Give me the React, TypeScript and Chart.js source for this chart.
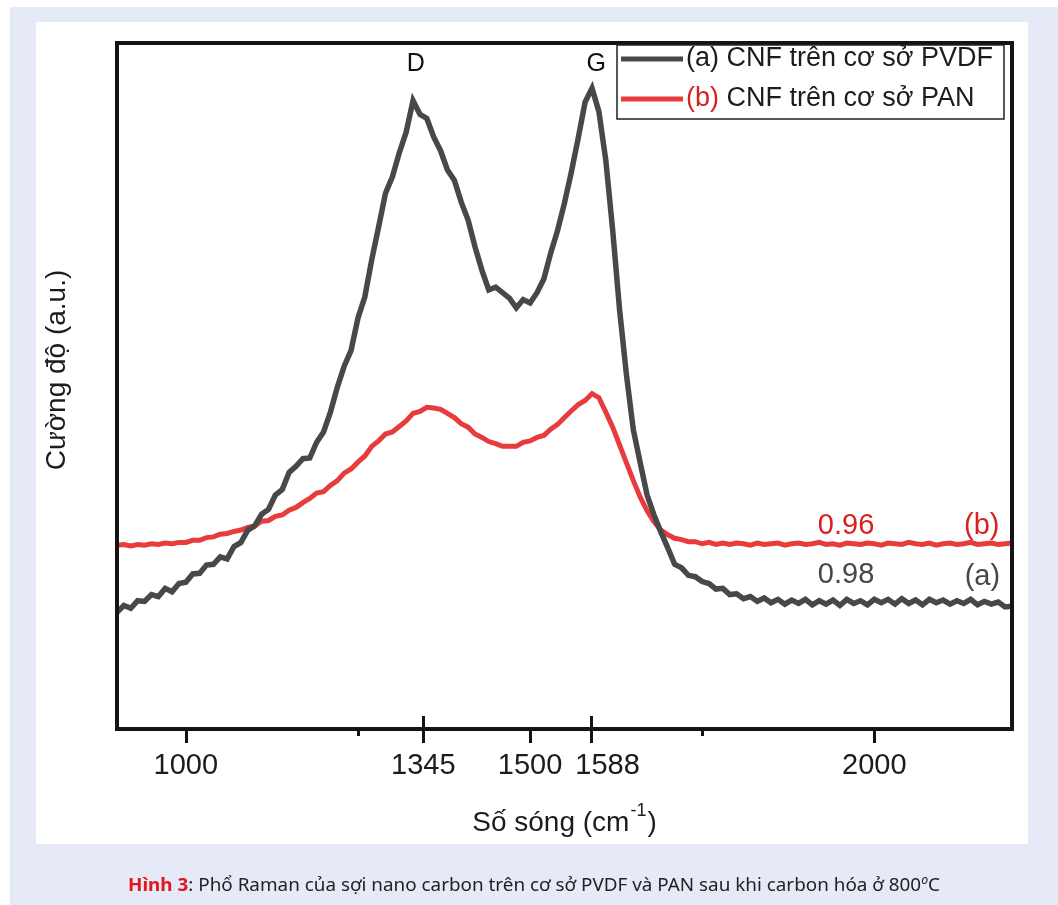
import React, { useEffect, useRef } from 'react';
import { Chart, registerables } from 'chart.js';

Chart.register(...registerables);

const FONT = '"Liberation Sans", Arial, "DejaVu Sans", sans-serif';

// Raman shift (cm-1)
const WAVENUMBERS = [
  900, 910, 920, 930, 940, 950, 960, 970, 980, 990,
  1000, 1010, 1020, 1030, 1040, 1050, 1060, 1070, 1080, 1090,
  1100, 1110, 1120, 1130, 1140, 1150, 1160, 1170, 1180, 1190,
  1200, 1210, 1220, 1230, 1240, 1250, 1260, 1270, 1280, 1290,
  1300, 1310, 1320, 1330, 1340, 1350, 1360, 1370, 1380, 1390,
  1400, 1410, 1420, 1430, 1440, 1450, 1460, 1470, 1480, 1490,
  1500, 1510, 1520, 1530, 1540, 1550, 1560, 1570, 1580, 1590,
  1600, 1610, 1620, 1630, 1640, 1650, 1660, 1670, 1680, 1690,
  1700, 1710, 1720, 1730, 1740, 1750, 1760, 1770, 1780, 1790,
  1800, 1810, 1820, 1830, 1840, 1850, 1860, 1870, 1880, 1890,
  1900, 1910, 1920, 1930, 1940, 1950, 1960, 1970, 1980, 1990,
  2000, 2010, 2020, 2030, 2040, 2050, 2060, 2070, 2080, 2090,
  2100, 2110, 2120, 2130, 2140, 2150, 2160, 2170, 2180, 2190,
  2200,
];

// (a) CNF on PVDF basis (a.u.)
const PVDF = [
  17.0, 18.0, 17.6, 18.7, 18.6, 19.6, 19.3, 20.5, 20.0, 21.2,
  21.4, 22.6, 22.7, 23.9, 24.0, 25.1, 24.8, 26.6, 27.2, 29.0,
  29.6, 31.3, 32.0, 34.1, 34.9, 37.4, 38.3, 39.4, 39.5, 41.8,
  43.3, 46.2, 49.8, 52.9, 55.2, 59.9, 63.0, 68.4, 73.2, 78.1,
  80.5, 84.0, 87.0, 91.6, 89.6, 89.0, 86.3, 84.3, 81.5, 80.0,
  76.8, 74.2, 70.3, 66.9, 64.0, 64.4, 63.6, 62.8, 61.4, 62.6,
  62.1, 63.6, 65.6, 69.4, 72.7, 76.7, 81.2, 86.2, 91.4, 93.4,
  90.0, 82.9, 72.7, 61.1, 51.6, 43.6, 38.8, 34.1, 31.2, 28.7,
  26.4, 24.0, 23.5, 22.4, 22.2, 21.5, 21.2, 20.4, 20.5, 19.6,
  19.7, 19.0, 19.3, 18.6, 19.1, 18.4, 18.9, 18.2, 18.8, 18.3,
  18.9, 18.1, 18.7, 18.2, 18.8, 18.0, 18.9, 18.3, 18.7, 18.1,
  18.9, 18.4, 18.9, 18.2, 19.0, 18.3, 18.8, 18.1, 18.9, 18.4,
  18.8, 18.2, 18.7, 18.3, 18.9, 18.1, 18.6, 18.2, 18.5, 17.8,
  17.9,
];

// (b) CNF on PAN basis (a.u.)
const PAN = [
  26.8, 26.9, 26.7, 26.9, 26.8, 27.0, 26.9, 27.1, 27.0, 27.2,
  27.2, 27.5, 27.5, 27.9, 28.0, 28.4, 28.5, 28.8, 29.0, 29.4,
  29.6, 30.3, 30.4, 31.0, 31.2, 31.9, 32.3, 33.0, 33.6, 34.4,
  34.6, 35.5, 36.2, 37.3, 37.9, 38.9, 39.8, 41.2, 42.0, 43.0,
  43.3, 44.1, 44.9, 46.0, 46.3, 46.9, 46.8, 46.6, 46.0, 45.4,
  44.5, 44.0, 43.0, 42.5, 41.9, 41.6, 41.2, 41.2, 41.2, 41.8,
  42.0, 42.5, 42.8, 43.7, 44.4, 45.4, 46.4, 47.3, 47.9, 48.9,
  48.3, 46.2, 44.0, 41.4, 38.8, 36.2, 33.8, 31.8, 30.2, 29.0,
  28.3, 27.8, 27.6, 27.3, 27.3, 27.0, 27.2, 26.9, 27.1, 26.9,
  27.1, 27.0, 26.8, 27.1, 26.9, 27.0, 27.1, 26.8, 27.0, 27.1,
  26.9, 27.0, 27.2, 26.9, 27.0, 26.8, 27.1, 27.0, 26.9, 27.1,
  27.0, 26.8, 27.1, 27.0, 26.9, 27.2, 27.0, 26.9, 27.1, 26.8,
  27.0, 27.1, 26.9, 27.0, 27.2, 26.9, 27.0, 27.1, 26.9, 27.0,
  27.1,
];

const SERIES_TAGS = ['(a)', '(b)'];
const SERIES_NAMES = ['CNF trên cơ sở PVDF', 'CNF trên cơ sở PAN'];

const X_TICKS = [1000, 1250, 1345, 1500, 1588, 1750, 2000];
const X_TICK_LABELS = ['1000', '', '1345', '1500', '1588', '', '2000'];
const PEAK_TICKS = [1345, 1588];

const PEAK_NAMES = ['D', 'G'];
const PEAK_NAME_AT = [1334, 1596];

const RATIO_TEXTS = ['0.98', '0.96'];
const RATIO_AT = [1959, 1959];
const RATIO_LEVEL = [22.4, 29.6];
const TAG_AT = [2157, 2156];
const TAG_LEVEL = [22.2, 29.6];

const X_MIN = 900;
const X_MAX = 2200;

const COLOR_A = '#484848';
const COLOR_B = '#e83c3c';
const TEXT_A = '#474747';
const TEXT_B = '#d8201f';

const decorPlugin = {
  id: 'decor',
  afterDatasetsDraw(chart: any) {
    const { ctx, chartArea: a, scales } = chart;
    const xs = scales.x;
    const ys = scales.y;
    ctx.save();

    // frame
    ctx.strokeStyle = '#141414';
    ctx.lineWidth = 4;
    ctx.strokeRect(a.left, a.top, a.right - a.left, a.bottom - a.top);

    // tick marks
    ctx.lineWidth = 3;
    X_TICKS.forEach((v, i) => {
      const px = Math.round(xs.getPixelForValue(v)) + 0.5;
      const minor = X_TICK_LABELS[i] === '';
      const cross = PEAK_TICKS.includes(v);
      ctx.beginPath();
      ctx.moveTo(px, cross ? a.bottom - 13 : a.bottom);
      ctx.lineTo(px, a.bottom + (minor ? 7 : 14));
      ctx.stroke();
    });

    // tick labels (pushed apart when they would touch)
    ctx.font = `29px ${FONT}`;
    ctx.fillStyle = '#1c1c1c';
    ctx.textAlign = 'center';
    ctx.textBaseline = 'middle';
    let prevRight = -Infinity;
    X_TICKS.forEach((v, i) => {
      const t = X_TICK_LABELS[i];
      if (!t) return;
      const w = ctx.measureText(t).width;
      let cx = xs.getPixelForValue(v);
      if (cx - w / 2 < prevRight + 13) cx = prevRight + 13 + w / 2;
      ctx.fillText(t, cx, a.bottom + 37);
      prevRight = cx + w / 2;
    });

    // x title with superscript
    const main = 'Số sóng (cm';
    const sup = '-1';
    const close = ')';
    ctx.textAlign = 'left';
    ctx.textBaseline = 'alphabetic';
    ctx.font = `28px ${FONT}`;
    const w1 = ctx.measureText(main).width;
    const w3 = ctx.measureText(close).width;
    ctx.font = `18px ${FONT}`;
    const w2 = ctx.measureText(sup).width;
    const total = w1 + w2 + w3 + 2;
    let sx = (a.left + a.right) / 2 - total / 2;
    const by = a.bottom + 102;
    ctx.font = `28px ${FONT}`;
    ctx.fillText(main, sx, by);
    sx += w1 + 1;
    ctx.font = `18px ${FONT}`;
    ctx.fillText(sup, sx, by - 15);
    sx += w2 + 1;
    ctx.font = `28px ${FONT}`;
    ctx.fillText(close, sx, by);

    // y title
    ctx.save();
    ctx.translate(a.left - 60, (a.top + a.bottom) / 2 - 16);
    ctx.rotate(-Math.PI / 2);
    ctx.textAlign = 'center';
    ctx.textBaseline = 'middle';
    ctx.font = `28px ${FONT}`;
    ctx.fillText('Cường độ (a.u.)', 0, 0);
    ctx.restore();

    // peak names
    ctx.textAlign = 'center';
    ctx.textBaseline = 'middle';
    ctx.font = `25px ${FONT}`;
    ctx.fillStyle = '#111';
    PEAK_NAMES.forEach((n, i) => {
      ctx.fillText(n, xs.getPixelForValue(PEAK_NAME_AT[i]), ys.getPixelForValue(96.9));
    });

    // ratio annotations
    ctx.font = `29px ${FONT}`;
    RATIO_TEXTS.forEach((t, i) => {
      ctx.fillStyle = i === 0 ? TEXT_A : TEXT_B;
      ctx.fillText(t, xs.getPixelForValue(RATIO_AT[i]), ys.getPixelForValue(RATIO_LEVEL[i]));
      ctx.fillText(SERIES_TAGS[i], xs.getPixelForValue(TAG_AT[i]), ys.getPixelForValue(TAG_LEVEL[i]));
    });

    // legend
    const bl = a.right - 395;
    const bt = a.top + 2;
    const br = a.right - 8;
    const bb = a.top + 76;
    ctx.fillStyle = '#fff';
    ctx.fillRect(bl, bt, br - bl, bb - bt);
    ctx.strokeStyle = '#222';
    ctx.lineWidth = 1.5;
    ctx.strokeRect(bl, bt, br - bl, bb - bt);
    const rows = [bt + 14, bt + 54];
    const lineColors = [COLOR_A, COLOR_B];
    ctx.font = `27px ${FONT}`;
    ctx.textAlign = 'left';
    ctx.textBaseline = 'middle';
    rows.forEach((ry, i) => {
      ctx.strokeStyle = lineColors[i];
      ctx.lineWidth = 5;
      ctx.beginPath();
      ctx.moveTo(bl + 4, ry);
      ctx.lineTo(bl + 66, ry);
      ctx.stroke();
      let tx = bl + 69;
      ctx.fillStyle = i === 0 ? '#1c1c1c' : TEXT_B;
      ctx.fillText(SERIES_TAGS[i], tx, ry);
      tx += ctx.measureText(SERIES_TAGS[i]).width;
      ctx.fillStyle = '#1c1c1c';
      ctx.fillText(' ' + SERIES_NAMES[i], tx, ry);
    });

    ctx.restore();
  },
};

export default function App() {
  const canvasRef = useRef<HTMLCanvasElement | null>(null);
  const capRef = useRef<HTMLSpanElement | null>(null);

  useEffect(() => {
    const canvas = canvasRef.current;
    if (!canvas) return;
    const chart = new Chart(canvas, {
      type: 'line',
      data: {
        datasets: [
          {
            label: `${SERIES_TAGS[0]} ${SERIES_NAMES[0]}`,
            data: WAVENUMBERS.map((x, i) => ({ x, y: PVDF[i] })),
            borderColor: COLOR_A,
            borderWidth: 5.5,
            pointRadius: 0,
            tension: 0,
            fill: false,
          },
          {
            label: `${SERIES_TAGS[1]} ${SERIES_NAMES[1]}`,
            data: WAVENUMBERS.map((x, i) => ({ x, y: PAN[i] })),
            borderColor: COLOR_B,
            borderWidth: 5,
            pointRadius: 0,
            tension: 0,
            fill: false,
          },
        ],
      },
      options: {
        responsive: false,
        animation: false,
        events: [],
        layout: { padding: { left: 117, right: 46, top: 43, bottom: 96 } },
        plugins: {
          legend: { display: false },
          tooltip: { enabled: false },
        },
        scales: {
          x: {
            type: 'linear',
            min: X_MIN,
            max: X_MAX,
            grid: { display: false },
            border: { display: false },
            ticks: { display: false },
            afterBuildTicks: (s: any) => {
              s.ticks = X_TICKS.map((v) => ({ value: v }));
            },
            afterFit: (s: any) => {
              s.height = 80;
            },
          },
          y: {
            display: false,
            min: 0,
            max: 100,
          },
        },
      },
      plugins: [decorPlugin],
    } as any);

    const cap = capRef.current;
    if (cap) {
      cap.style.transform = 'none';
      const w = cap.getBoundingClientRect().width;
      if (w > 0) cap.style.transform = `scaleX(${812 / w})`;
    }

    return () => chart.destroy();
  }, []);

  return (
    <div style={{ position: 'absolute', left: 0, top: 0, width: 1058, height: 905, background: '#ffffff', overflow: 'hidden' }}>
      <div style={{ position: 'absolute', left: 10, top: 7, width: 1048, height: 898, background: '#e6eaf6' }} />
      <div style={{ position: 'absolute', left: 36, top: 22, width: 992, height: 822, background: '#ffffff' }} />
      <canvas
        ref={canvasRef}
        width={1058}
        height={905}
        style={{ position: 'absolute', left: 0, top: 0, width: 1058, height: 905 }}
      />
      <div style={{ position: 'absolute', left: 128, top: 869, whiteSpace: 'nowrap', lineHeight: '22px' }}>
        <span
          ref={capRef}
          style={{
            display: 'inline-block',
            transformOrigin: 'left center',
            fontFamily: '"Liberation Sans Narrow", "Noto Sans", "Liberation Sans", sans-serif',
            fontSize: 18.5,
            color: '#222',
          }}
        >
          <b style={{ color: '#e4141b' }}>Hình 3</b>: Phổ Raman của sợi nano carbon trên cơ sở PVDF và PAN sau khi carbon hóa ở 800
          <sup style={{ fontSize: 12, fontStyle: 'italic' }}>o</sup>C
        </span>
      </div>
    </div>
  );
}
